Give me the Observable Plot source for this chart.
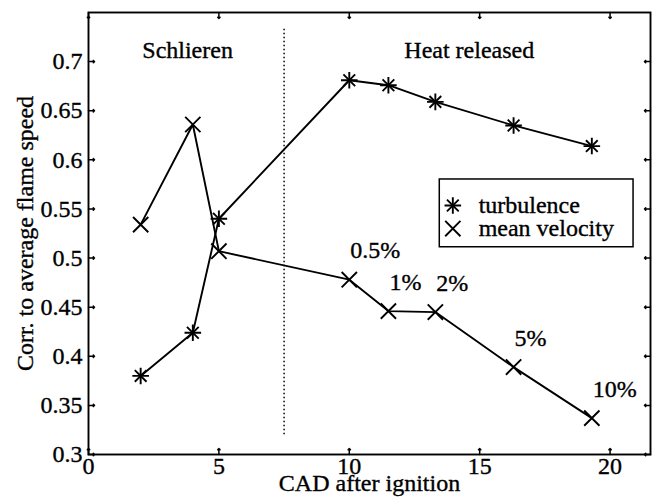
<!DOCTYPE html>
<html>
<head>
<meta charset="utf-8">
<script src="https://cdn.jsdelivr.net/npm/d3@7"></script>
<script src="https://cdn.jsdelivr.net/npm/@observablehq/plot@0.6"></script>
<style>
  html, body { margin: 0; padding: 0; background: #fff; }
  #chart { width: 656px; height: 504px; }
  #chart svg text { stroke: #000; stroke-width: 0.35px; }
</style>
</head>
<body>
<div id="chart"></div>
<script>
// ---- data ----
const cad = [2, 4, 5, 10, 11.5, 13.3, 16.3, 19.3];
const turbulence = [0.380, 0.424, 0.540, 0.681, 0.676, 0.659, 0.635, 0.614];
const meanVelocity = [0.534, 0.636, 0.507, 0.478, 0.446, 0.445, 0.389, 0.337];
const percentLabels = ["", "", "", "0.5%", "1%", "2%", "5%", "10%"];
const xTicks = [0, 5, 10, 15, 20];
const yTicks = [0.3, 0.35, 0.4, 0.45, 0.5, 0.55, 0.6, 0.65, 0.7];
const regionNames = ["Schlieren", "Heat released"];
const regionCenters = [3.8, 14.6];
const dividerCad = [7.5];
const legendLabels = ["turbulence", "mean velocity"];

// ---- tables built from the arrays ----
const turbRows = cad.map((x, i) => ({x, y: turbulence[i]}));
const velRows = cad.map((x, i) => ({x, y: meanVelocity[i], label: percentLabels[i]}));

// legend placement (data coordinates)
const legendBox = {x1: 13.47, x2: 20.9, y1: 0.511, y2: 0.580};
const legendSymX = 13.97, legendTextX = 14.96;
const legendRowY = [0.5535, 0.530];

const ff = "Liberation Serif";
const fs = 24;
const sw = 1.9;
const T = {fontSize: fs, fontFamily: ff, fill: "#000"};

const chart = Plot.plot({
  width: 656,
  height: 504,
  marginLeft: 88,
  marginRight: 6,
  marginTop: 12,
  marginBottom: 50,
  style: "font-family: 'Liberation Serif', serif; font-size: 24px; background: #fff; color: #000;",
  x: {domain: [0, 21.55]},
  y: {domain: [0.3, 0.75]},
  marks: [
    Plot.ruleX(dividerCad, {y1: 0.32, y2: 0.735, stroke: "#000", strokeWidth: 1.5, strokeDasharray: "1.5,2.5"}),
    Plot.axisX({ticks: xTicks, tickSize: 0, tickPadding: 2, label: null, fontSize: fs, fontFamily: ff}),
    Plot.axisY({ticks: yTicks, tickSize: 0, tickPadding: 6, label: null, fontSize: fs, fontFamily: ff,
      tickFormat: d => String(+d.toFixed(2))}),
    Plot.vector(xTicks, {x: d => d, frameAnchor: "bottom", rotate: 0, length: 6, anchor: "start", stroke: "#000", strokeWidth: 1.5}),
    Plot.vector(xTicks, {x: d => d, frameAnchor: "top", rotate: 180, length: 6, anchor: "start", stroke: "#000", strokeWidth: 1.5}),
    Plot.vector(yTicks, {y: d => d, frameAnchor: "left", rotate: 90, length: 6, anchor: "start", stroke: "#000", strokeWidth: 1.5}),
    Plot.vector(yTicks, {y: d => d, frameAnchor: "right", rotate: -90, length: 6, anchor: "start", stroke: "#000", strokeWidth: 1.5}),
    Plot.text(["CAD after ignition"], {frameAnchor: "bottom", dy: 36, ...T}),
    Plot.text(["Corr. to average flame speed"], {frameAnchor: "left", textAnchor: "middle", dx: -63, rotate: -90, ...T}),
    Plot.text(regionNames, {x: (d, i) => regionCenters[i], frameAnchor: "top", dy: 28.5, ...T}),
    Plot.line(turbRows, {x: "x", y: "y", stroke: "#000", strokeWidth: sw}),
    Plot.line(velRows, {x: "x", y: "y", stroke: "#000", strokeWidth: sw}),
    Plot.dot(turbRows, {x: "x", y: "y", symbol: "plus", r: 5.4, stroke: "#000", strokeWidth: sw}),
    Plot.dot(turbRows, {x: "x", y: "y", symbol: "times", r: 5.4, stroke: "#000", strokeWidth: sw}),
    Plot.dot(velRows, {x: "x", y: "y", symbol: "times", r: 7, stroke: "#000", strokeWidth: sw}),
    Plot.text(velRows.filter(d => d.label), {x: "x", y: "y", text: "label", textAnchor: "start", dx: 1, dy: -29, ...T}),
    Plot.rect([legendBox], {x1: "x1", x2: "x2", y1: "y1", y2: "y2", fill: "#fff", stroke: "#000", strokeWidth: 1.5}),
    Plot.dot([legendRowY[0]], {x: () => legendSymX, y: d => d, symbol: "plus", r: 5.4, stroke: "#000", strokeWidth: sw}),
    Plot.dot([legendRowY[0]], {x: () => legendSymX, y: d => d, symbol: "times", r: 5.4, stroke: "#000", strokeWidth: sw}),
    Plot.dot([legendRowY[1]], {x: () => legendSymX, y: d => d, symbol: "times", r: 7, stroke: "#000", strokeWidth: sw}),
    Plot.text(legendLabels, {x: () => legendTextX, y: (d, i) => legendRowY[i], textAnchor: "start", ...T}),
    Plot.frame({stroke: "#000", strokeWidth: 1.9})
  ]
});
document.getElementById("chart").appendChild(chart);
</script>
</body>
</html>
